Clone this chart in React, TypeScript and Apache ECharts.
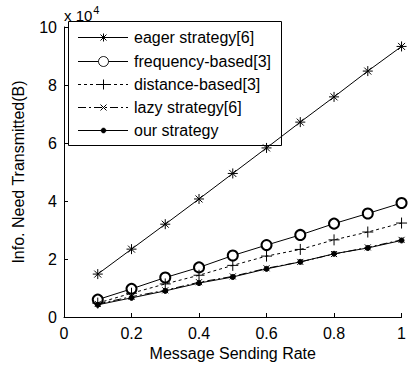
import React, { useEffect, useRef } from "react";
import * as echarts from "echarts";

const rates = [0.1, 0.2, 0.3, 0.4, 0.5, 0.6, 0.7, 0.8, 0.9, 1.0];
const eager = [1.48, 2.34, 3.2, 4.07, 4.95, 5.83, 6.72, 7.59, 8.48, 9.33];
const frequency = [0.6, 0.97, 1.36, 1.71, 2.12, 2.48, 2.83, 3.22, 3.57, 3.93];
const distance = [0.48, 0.82, 1.14, 1.44, 1.78, 2.1, 2.33, 2.66, 2.93, 3.24];
const lazy = [0.45, 0.7, 0.92, 1.2, 1.4, 1.68, 1.9, 2.17, 2.4, 2.66];
const ours = [0.42, 0.66, 0.9, 1.17, 1.38, 1.66, 1.9, 2.18, 2.38, 2.64];
const names = [
  "eager strategy[6]",
  "frequency-based[3]",
  "distance-based[3]",
  "lazy strategy[6]",
  "our strategy",
];

const FONT = "'Liberation Sans', Arial, sans-serif";
const ASTERISK = "path://M5,0L5,10M0,5L10,5M1.5,1.5L8.5,8.5M1.5,8.5L8.5,1.5";
const PLUS = "path://M5,0L5,10M0,5L10,5";
const CROSS = "path://M0,0L10,10M0,10L10,0";
const DASHES: any[] = ["solid", "solid", [3, 3], [8, 3, 2, 3], "solid"];

const pair = (ys: number[]) => rates.map((x, i) => [x, ys[i]]);

function legendMarker(i: number, cx: number, cy: number): any[] {
  const st = { stroke: "#000", lineWidth: 1 };
  const seg = (x1: number, y1: number, x2: number, y2: number) => ({
    type: "line",
    shape: { x1: cx + x1, y1: cy + y1, x2: cx + x2, y2: cy + y2 },
    style: st,
  });
  if (i === 0) return [seg(0, -4, 0, 4), seg(-4, 0, 4, 0), seg(-3, -3, 3, 3), seg(-3, 3, 3, -3)];
  if (i === 1) return [{ type: "circle", shape: { cx, cy, r: 5 }, style: { fill: "#fff", stroke: "#000", lineWidth: 0.9 } }];
  if (i === 2) return [seg(0, -5, 0, 5), seg(-5, 0, 5, 0)];
  if (i === 3) return [seg(-3, -3, 3, 3), seg(-3, 3, 3, -3)];
  return [{ type: "circle", shape: { cx, cy, r: 2.5 }, style: { fill: "#000", stroke: "#000", lineWidth: 0.5 } }];
}

function buildLegend(): any[] {
  const rows = [37.5, 61.5, 84.5, 107.5, 130.5];
  const els: any[] = [
    {
      type: "rect",
      shape: { x: 68.5, y: 21.5, width: 213, height: 124 },
      style: { fill: "#fff", stroke: "#000", lineWidth: 1 },
    },
  ];
  names.forEach((n, i) => {
    const y = rows[i];
    const d = DASHES[i];
    els.push({
      type: "line",
      shape: { x1: 78, y1: y, x2: 128, y2: y },
      style: { stroke: "#000", lineWidth: 1, lineDash: Array.isArray(d) ? d : null },
    });
    els.push(...legendMarker(i, 103.5, y));
    els.push({
      type: "text",
      x: 134,
      y,
      style: { text: n, fontSize: 16, fontFamily: FONT, fill: "#000", verticalAlign: "middle", align: "left" },
    });
  });
  return els;
}

export default function App() {
  const ref = useRef<HTMLDivElement>(null);
  useEffect(() => {
    document.body.style.margin = "0";
    const chart = echarts.init(ref.current!, null, { renderer: "svg" });
    const base = (i: number, ys: number[], symbol: string, size: number, bw = 1) => ({
      name: names[i],
      type: "line",
      data: pair(ys),
      symbol,
      symbolSize: size,
      showAllSymbol: true,
      color: "#000",
      lineStyle: { color: "#000", width: 1, type: DASHES[i] },
      itemStyle: { color: "#000", borderColor: "#000", borderWidth: bw },
      emphasis: { disabled: true },
    });
    chart.setOption({
      animation: false,
      textStyle: { fontFamily: FONT },
      grid: { left: 64, right: 5, top: 27, bottom: 51 },
      xAxis: {
        type: "value",
        min: 0,
        max: 1,
        interval: 0.2,
        name: "Message Sending Rate",
        nameLocation: "middle",
        nameGap: 28,
        nameTextStyle: { fontSize: 16, color: "#000", fontFamily: FONT },
        axisLine: { show: true, lineStyle: { color: "#000", width: 1 } },
        axisTick: { show: true, inside: true, length: 4, lineStyle: { color: "#000" } },
        axisLabel: { fontSize: 16, color: "#000", margin: 8, fontFamily: FONT, formatter: (v: number) => String(+v.toFixed(1)) },
        splitLine: { show: false },
      },
      yAxis: {
        type: "value",
        min: 0,
        max: 10,
        interval: 2,
        name: "Info. Need Transmitted(B)",
        nameLocation: "middle",
        nameGap: 38,
        nameTextStyle: { fontSize: 16, color: "#000", fontFamily: FONT },
        axisLine: { show: true, lineStyle: { color: "#000", width: 1 } },
        axisTick: { show: true, inside: true, length: 4, lineStyle: { color: "#000" } },
        axisLabel: { fontSize: 16, color: "#000", margin: 7, fontFamily: FONT },
        splitLine: { show: false },
      },
      graphic: [
        {
          type: "text",
          left: 64,
          top: 4,
          style: {
            text: "{a|x 10}{b|4}",
            rich: {
              a: { fontSize: 15, fontFamily: FONT, fill: "#000", verticalAlign: "bottom" },
              b: { fontSize: 11, fontFamily: FONT, fill: "#000", verticalAlign: "top", padding: [0, 0, 8, 1] },
            },
          },
        },
        { type: "group", z: 100, children: buildLegend() },
      ],
      series: [
        base(0, eager, ASTERISK, 10),
        base(1, frequency, "emptyCircle", 10, 0.9),
        base(2, distance, PLUS, 11),
        base(3, lazy, CROSS, 6),
        base(4, ours, "circle", 5),
      ],
    });
    return () => chart.dispose();
  }, []);
  return <div ref={ref} style={{ width: 409, height: 368, position: "absolute", left: 0, top: 0 }} />;
}
